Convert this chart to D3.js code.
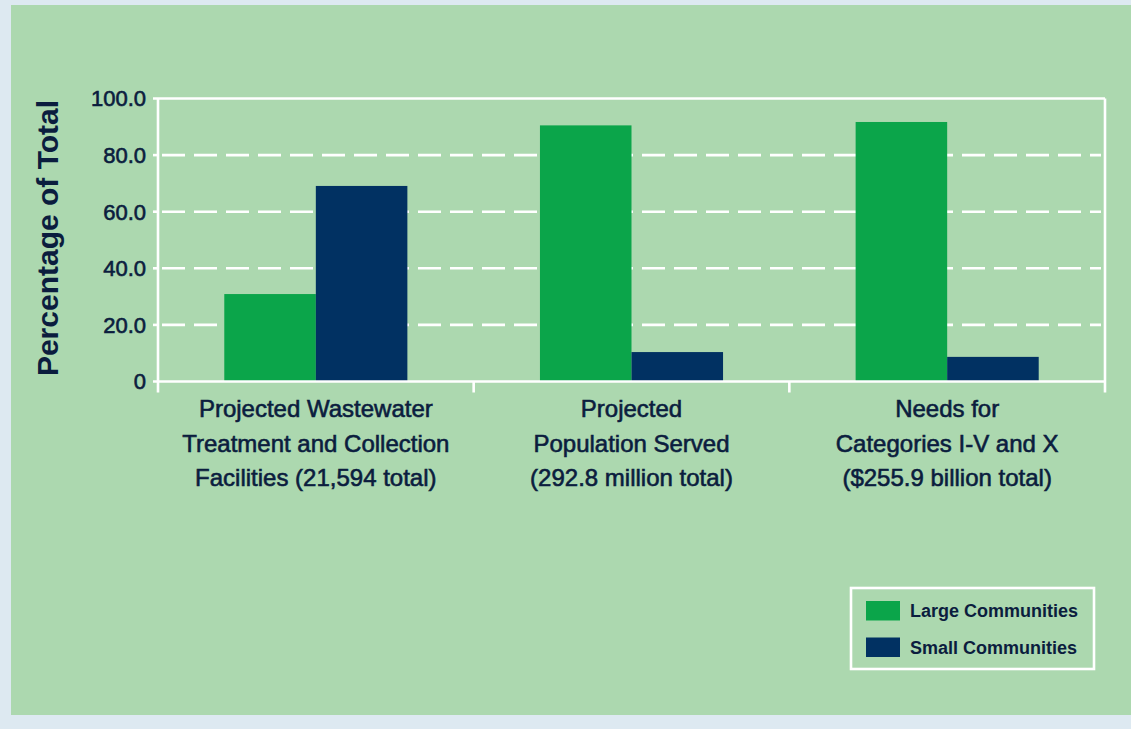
<!DOCTYPE html>
<html>
<head>
<meta charset="utf-8">
<script src="https://cdn.jsdelivr.net/npm/d3@7"></script>
<style>
  html, body { margin: 0; padding: 0; background: #dde9f1; }
  svg { display: block; }
  text { font-family: "Liberation Sans", Arial, sans-serif; fill: #0b1d3e; }
</style>
</head>
<body>
<script>
// ---- data ----
const categories = [
  ["Projected Wastewater", "Treatment and Collection", "Facilities (21,594 total)"],
  ["Projected", "Population Served", "(292.8 million total)"],
  ["Needs for", "Categories I-V and X", "($255.9 billion total)"]
];
const seriesNames = ["Large Communities", "Small Communities"];
const largeValues = [30.9, 90.5, 91.7];
const smallValues = [69.1, 10.4, 8.7];
const yTicks = [0, 20, 40, 60, 80, 100];
const yTickLabels = ["0", "20.0", "40.0", "60.0", "80.0", "100.0"];
const colors = ["#0ba54a", "#013162"];

(function () {
const W = 1131, H = 729;
const svg = d3.select("body").append("svg").attr("width", W).attr("height", H);

// background panels
svg.append("rect").attr("x", 0).attr("y", 0).attr("width", W).attr("height", H).attr("fill", "#dde9f1");
svg.append("rect").attr("x", 11).attr("y", 5).attr("width", W - 11).attr("height", 710).attr("fill", "#acd8af");

const pL = 158, pR = 1105, pT = 98.5, pB = 381.5;

const x0 = d3.scaleBand().domain(d3.range(categories.length)).range([pL, pR]).paddingInner(0).paddingOuter(0);
const bw = x0.bandwidth();
const x1 = d3.scaleBand().domain([0, 1]).range([bw * 0.21, bw * 0.79]).padding(0);
const y = d3.scaleLinear().domain([0, 100]).range([pB, pT]);

// dashed gridlines
const grid = svg.append("g");
yTicks.filter(t => t > 0 && t < 100).forEach(t => {
  grid.append("line").attr("x1", pL - 5).attr("x2", pL)
    .attr("y1", y(t)).attr("y2", y(t)).attr("stroke", "#fff").attr("stroke-width", 2.6);
  grid.append("line").attr("x1", pL + 2).attr("x2", pR - 4)
    .attr("y1", y(t)).attr("y2", y(t)).attr("stroke", "#fff").attr("stroke-width", 2.6)
    .attr("stroke-dasharray", "23,9").attr("stroke-dashoffset", -2);
});

// bars
const data = categories.map((c, i) => [largeValues[i], smallValues[i]]);
const groups = svg.append("g").selectAll("g").data(data).join("g")
  .attr("transform", (d, i) => `translate(${x0(i)},0)`);
groups.selectAll("rect").data(d => d).join("rect")
  .attr("x", (d, j) => x1(j))
  .attr("width", x1.bandwidth())
  .attr("y", d => y(d))
  .attr("height", d => y(0) - y(d))
  .attr("fill", (d, j) => colors[j]);

// frame / axes
const frame = svg.append("g").attr("stroke", "#fff").attr("stroke-width", 2.6).attr("fill", "none");
frame.append("line").attr("x1", pL - 5).attr("x2", pR).attr("y1", pT).attr("y2", pT);
frame.append("line").attr("x1", pR).attr("x2", pR).attr("y1", pT).attr("y2", pB + 11);
frame.append("line").attr("x1", pL).attr("x2", pL).attr("y1", pT).attr("y2", pB + 11);
frame.append("line").attr("x1", pL - 5).attr("x2", pR).attr("y1", pB).attr("y2", pB);
d3.range(1, categories.length).forEach(i => {
  frame.append("line").attr("x1", x0(i)).attr("x2", x0(i)).attr("y1", pB).attr("y2", pB + 11);
});

// y tick labels
const yAxis = d3.axisLeft(y).tickValues(yTicks).tickFormat((d, i) => yTickLabels[i]).tickSize(0).tickPadding(12);
const ya = svg.append("g").attr("transform", `translate(${pL},0)`).call(yAxis);
ya.select(".domain").remove();
ya.selectAll("text").attr("font-size", 22).attr("fill", "#0b1d3e")
  .attr("stroke", "#0b1d3e").attr("stroke-width", 0.6)
  .attr("font-family", '"Liberation Sans", Arial, sans-serif').attr("dy", "0.34em");

// y title
svg.append("text").attr("transform", `translate(58,${(pT + pB) / 2 - 2}) rotate(-90)`)
  .attr("text-anchor", "middle").attr("font-size", 30).attr("font-weight", "bold")
  .text("Percentage of Total");

// category labels
const cl = svg.append("g");
categories.forEach((lines, i) => {
  const t = cl.append("text").attr("text-anchor", "middle").attr("font-size", 24)
    .attr("stroke", "#0b1d3e").attr("stroke-width", 0.6)
    .attr("x", x0(i) + bw / 2);
  lines.forEach((ln, k) => {
    t.append("tspan").attr("x", x0(i) + bw / 2).attr("y", 417 + k * 34.5).text(ln);
  });
});

// legend
const lg = svg.append("g");
lg.append("rect").attr("x", 851).attr("y", 588).attr("width", 243).attr("height", 81)
  .attr("fill", "none").attr("stroke", "#fff").attr("stroke-width", 2.6);
seriesNames.forEach((s, i) => {
  lg.append("rect").attr("x", 866).attr("y", 601 + i * 36.5).attr("width", 34).attr("height", 19.5).attr("fill", colors[i]);
  lg.append("text").attr("x", 910).attr("y", 617 + i * 36.5).attr("font-size", 18).attr("font-weight", "bold").text(s);
});
})();
</script>
</body>
</html>
